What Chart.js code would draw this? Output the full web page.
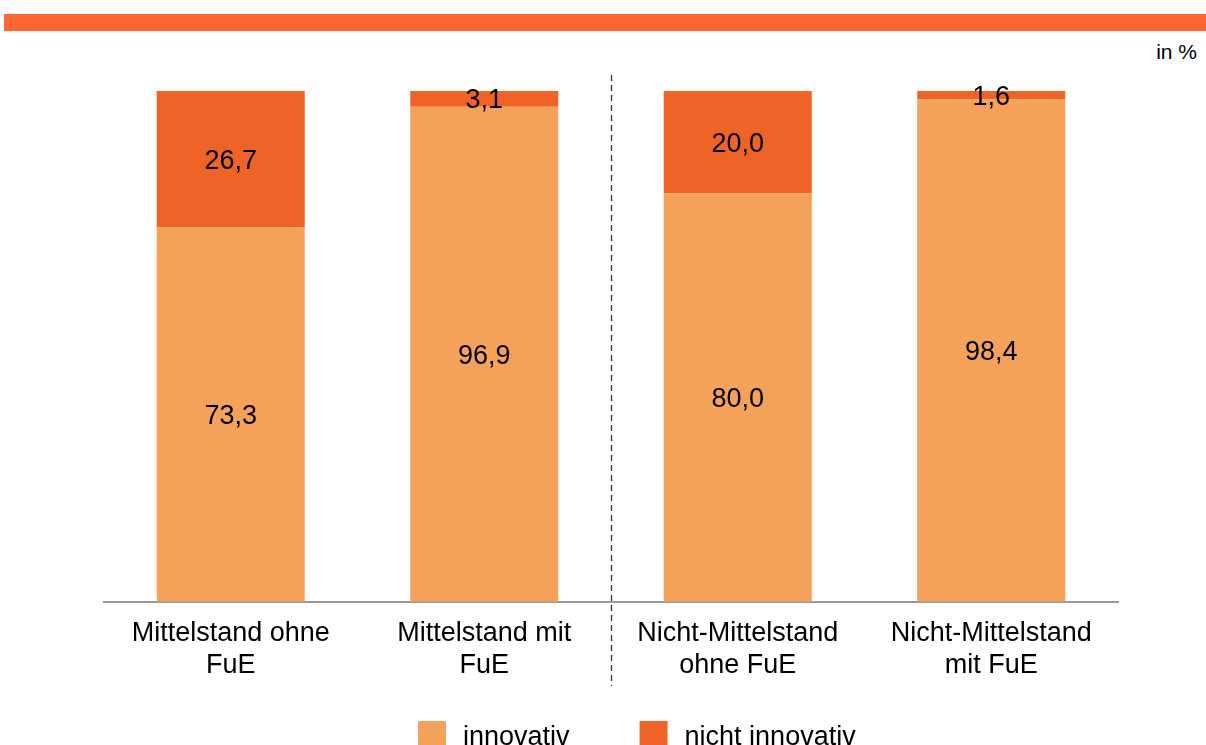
<!DOCTYPE html>
<html>
<head>
<meta charset="utf-8">
<script src="https://cdn.jsdelivr.net/npm/chart.js@4.4.1/dist/chart.umd.min.js"></script>
<style>
  html, body { margin: 0; padding: 0; background: #fff; overflow: hidden; }
  #wrap { position: relative; width: 1206px; height: 745px; }
  #band { position: absolute; left: 4px; top: 14px; width: 1202px; height: 17px; background: #FF6633; }
  #unit { position: absolute; right: 9px; top: 40px; font: 21px "Liberation Sans", Arial, sans-serif; color: #000; }
  canvas { position: absolute; left: 0; top: 0; }
</style>
</head>
<body>
<div id="wrap">
  <div id="band"></div>
  <div id="unit">in %</div>
  <canvas id="myChart" width="1206" height="745"></canvas>
</div>
<script>
var categories = [
    ['Mittelstand ohne', 'FuE'],
    ['Mittelstand mit', 'FuE'],
    ['Nicht-Mittelstand', 'ohne FuE'],
    ['Nicht-Mittelstand', 'mit FuE']
];
var seriesNames = ['innovativ', 'nicht innovativ'];
var innovativ = [73.3, 96.9, 80.0, 98.4];
var nichtInnovativ = [26.7, 3.1, 20.0, 1.6];

var FONT = '"Liberation Sans", Arial, sans-serif';

(function () {
    var ctx = document.getElementById('myChart');

    // values inside the segments
    var valueLabels = {
        id: 'valueLabels',
        afterDatasetsDraw: function (chart) {
            var c = chart.ctx;
            c.save();
            c.font = '27px ' + FONT;
            c.fillStyle = '#000';
            c.textAlign = 'center';
            c.textBaseline = 'middle';
            chart.data.datasets.forEach(function (ds, di) {
                chart.getDatasetMeta(di).data.forEach(function (bar, i) {
                    var txt = ds.data[i].toFixed(1).replace('.', ',');
                    c.fillText(txt, bar.x, (bar.y + bar.base) / 2 + 2);
                });
            });
            c.restore();
        }
    };

    // dashed separator between the two groups + legend
    var extras = {
        id: 'extras',
        afterDraw: function (chart) {
            var c = chart.ctx;
            var xs = chart.scales.x;
            var sx = Math.round((xs.getPixelForValue(1) + xs.getPixelForValue(2)) / 2) + 0.5;
            c.save();
            c.strokeStyle = '#333';
            c.lineWidth = 1.3;
            c.setLineDash([6, 4]);
            c.beginPath();
            c.moveTo(sx, 75);
            c.lineTo(sx, 686);
            c.stroke();
            c.setLineDash([]);

            c.font = '27px ' + FONT;
            c.textBaseline = 'middle';
            c.textAlign = 'left';
            var x = 418;
            chart.data.datasets.forEach(function (ds) {
                c.fillStyle = ds.backgroundColor;
                c.fillRect(x, 721, 28, 24);
                c.fillStyle = '#000';
                c.fillText(ds.label, x + 45, 738);
                x += 45 + c.measureText(ds.label).width + 70;
            });
            c.restore();
        }
    };

    var chart = new Chart(ctx, {
        type: 'bar',
        data: {
            labels: categories,
            datasets: [{
                label: seriesNames[0],
                data: innovativ,
                backgroundColor: '#F4A25A',
                borderWidth: 0
            }, {
                label: seriesNames[1],
                data: nichtInnovativ,
                backgroundColor: '#EF6426',
                borderWidth: 0
            }]
        },
        options: {
            responsive: false,
            animation: false,
            layout: {
                padding: { left: 104, right: 88, top: 91, bottom: 48 }
            },
            datasets: {
                bar: { categoryPercentage: 1, barPercentage: 0.584 }
            },
            plugins: {
                legend: { display: false },
                tooltip: { enabled: false }
            },
            scales: {
                x: {
                    stacked: true,
                    grid: { display: false, drawTicks: false },
                    border: { display: true, color: '#9a9a9a', width: 2 },
                    ticks: {
                        color: '#000',
                        padding: 16,
                        maxRotation: 0,
                        font: { family: FONT, size: 27, lineHeight: 1.17 }
                    }
                },
                y: {
                    stacked: true,
                    display: false,
                    min: 0,
                    max: 100
                }
            }
        },
        plugins: [valueLabels, extras]
    });
})()
</script>
</body>
</html>
